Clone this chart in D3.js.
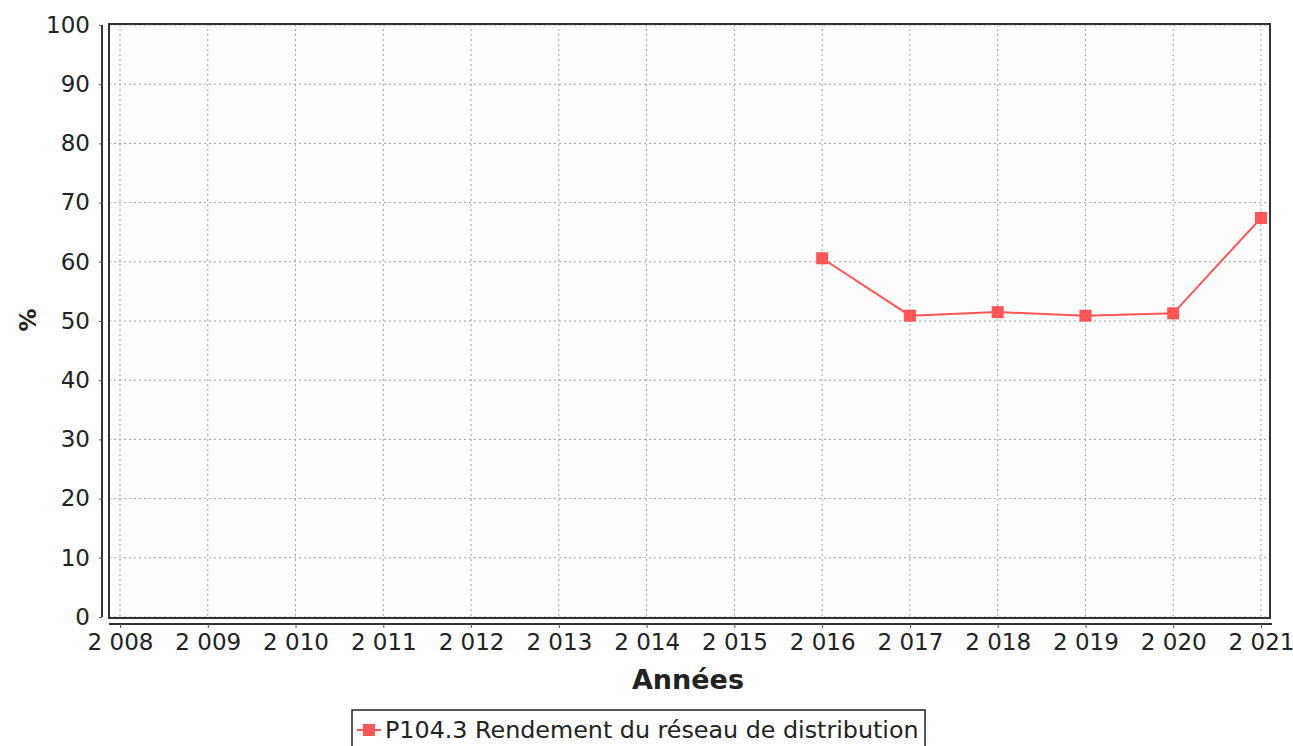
<!DOCTYPE html>
<html>
<head>
<meta charset="utf-8">
<script src="https://cdn.jsdelivr.net/npm/d3@7"></script>
<style>
  body { margin: 0; background: #ffffff; }
  text { font-family: "DejaVu Sans", sans-serif; fill: #222; }
</style>
</head>
<body>
<div id="chart"></div>
<script>
const years = [2008, 2009, 2010, 2011, 2012, 2013, 2014, 2015, 2016, 2017, 2018, 2019, 2020, 2021];
const yearLabels = ['2 008', '2 009', '2 010', '2 011', '2 012', '2 013', '2 014', '2 015', '2 016', '2 017', '2 018', '2 019', '2 020', '2 021'];
const seriesYears = [2016, 2017, 2018, 2019, 2020, 2021];
const seriesValues = [60.6, 50.9, 51.5, 50.9, 51.3, 67.4];
const yTicks = [0, 10, 20, 30, 40, 50, 60, 70, 80, 90, 100];
const seriesName = 'P104.3 Rendement du réseau de distribution';

const W = 1293, H = 746;
const plot = {left: 109, right: 1270, top: 24, bottom: 618};

const svg = d3.select('#chart').append('svg')
    .attr('width', W)
    .attr('height', H);

const xScale = d3.scaleLinear().domain([2008, 2021]).range([120, 1261]),
      yScale = d3.scaleLinear().domain([0, 100]).range([617, 25]);

// plot background
svg.append('rect')
    .attr('x', plot.left).attr('y', plot.top)
    .attr('width', plot.right - plot.left).attr('height', plot.bottom - plot.top)
    .attr('fill', '#fdfdfd');

// gridlines
svg.append('g').selectAll('line')
    .data(years)
  .enter().append('line')
    .attr('x1', d => xScale(d)).attr('x2', d => xScale(d))
    .attr('y1', plot.top).attr('y2', plot.bottom)
    .attr('stroke', '#a0a0a0').attr('stroke-width', 1)
    .attr('stroke-dasharray', '2,3');

svg.append('g').selectAll('line')
    .data(yTicks)
  .enter().append('line')
    .attr('x1', plot.left).attr('x2', plot.right)
    .attr('y1', d => yScale(d)).attr('y2', d => yScale(d))
    .attr('stroke', '#a0a0a0').attr('stroke-width', 1)
    .attr('stroke-dasharray', '2,3');

// plot frame
svg.append('rect')
    .attr('x', plot.left).attr('y', plot.top)
    .attr('width', plot.right - plot.left).attr('height', plot.bottom - plot.top)
    .attr('fill', 'none')
    .attr('stroke', '#333').attr('stroke-width', 2);

// y axis, offset from the plot
const yAxis = svg.append('g')
    .attr('transform', 'translate(102,0)')
    .call(d3.axisLeft(yScale).tickValues(yTicks).tickSize(3).tickPadding(9));
yAxis.select('.domain')
    .attr('d', 'M0,' + yScale(100) + 'V' + yScale(0))
    .attr('stroke', '#333').attr('stroke-width', 2);
yAxis.selectAll('.tick line').attr('stroke', '#555');
yAxis.selectAll('.tick text')
    .style('font-size', '23px')
    .style('font-family', '"DejaVu Sans", sans-serif')
    .attr('fill', '#222');

// x axis, offset from the plot
const xAxis = svg.append('g')
    .attr('transform', 'translate(0,624)')
    .call(d3.axisBottom(xScale).tickValues(years)
      .tickFormat((d, i) => yearLabels[i]).tickSize(4).tickPadding(6));
xAxis.select('.domain')
    .attr('d', 'M' + plot.left + ',0H' + (plot.right + 2))
    .attr('stroke', '#333').attr('stroke-width', 2);
xAxis.selectAll('.tick line').attr('stroke', '#555');
xAxis.selectAll('.tick text')
    .style('font-size', '23px')
    .style('font-family', '"DejaVu Sans", sans-serif')
    .attr('fill', '#222');

// axis titles
svg.append('text')
    .attr('x', 688).attr('y', 689)
    .style('text-anchor', 'middle')
    .style('font-size', '27px')
    .style('font-weight', 'bold')
    .text('Années');

svg.append('text')
    .attr('transform', 'translate(36,320) rotate(-90)')
    .style('text-anchor', 'middle')
    .style('font-size', '23px')
    .style('font-weight', 'bold')
    .text('%');

// series
const data = seriesYears.map((y, i) => ({year: y, value: seriesValues[i]}));

const line = d3.line()
    .x(d => xScale(d.year))
    .y(d => yScale(d.value));

svg.append('path')
    .datum(data)
    .attr('fill', 'none')
    .attr('stroke', '#ff5555')
    .attr('stroke-width', 2)
    .attr('d', line);

svg.selectAll('.marker')
    .data(data)
  .enter().append('rect')
    .attr('class', 'marker')
    .attr('x', d => xScale(d.year) - 6)
    .attr('y', d => yScale(d.value) - 6)
    .attr('width', 12).attr('height', 12)
    .attr('fill', '#ff5555');

// legend
const legend = svg.append('g');
legend.append('rect')
    .attr('x', 352).attr('y', 710)
    .attr('width', 573).attr('height', 40)
    .attr('fill', '#fff')
    .attr('stroke', '#222').attr('stroke-width', 1.5);
legend.append('line')
    .attr('x1', 357).attr('x2', 381)
    .attr('y1', 730).attr('y2', 730)
    .attr('stroke', '#ff5555').attr('stroke-width', 2);
legend.append('rect')
    .attr('x', 363).attr('y', 724)
    .attr('width', 12).attr('height', 12)
    .attr('fill', '#ff5555');
legend.append('text')
    .attr('x', 385).attr('y', 738)
    .style('font-size', '23.8px')
    .text(seriesName);
</script>
</body>
</html>
